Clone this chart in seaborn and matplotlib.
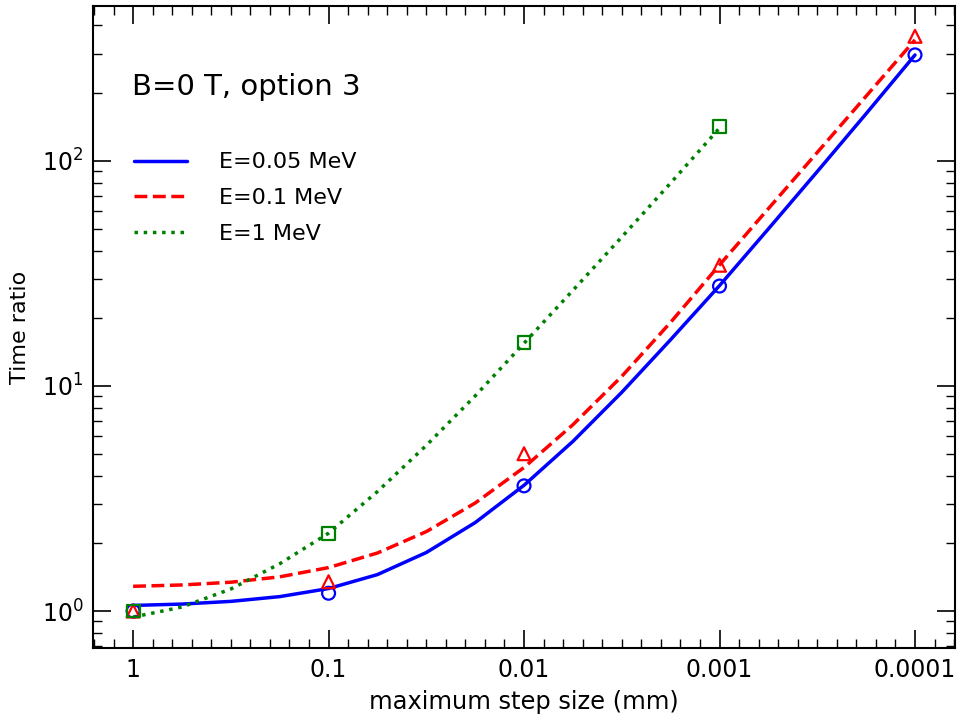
import numpy as np
import pandas as pd
import matplotlib
matplotlib.use("Agg")
import matplotlib.pyplot as plt
from matplotlib.ticker import MultipleLocator, FixedLocator, FixedFormatter, LogLocator
import seaborn as sns

# --- DATA (x = -log10(step size / mm)) ---
STEP_POS = [0, 1, 2, 3, 4]
STEP_LABELS = ["1", "0.1", "0.01", "0.001", "0.0001"]

# measured points
E005_PTS = [1.0, 1.2, 3.6, 27.8, 296]
E01_PTS = [1.0, 1.35, 5.0, 34.4, 358]
E1_PTS = [1.0, 2.21, 15.6, 142]

# fit curves
FIT_POS = [0, 0.25, 0.5, 0.75, 1.0, 1.25, 1.5, 1.75, 2.0, 2.25, 2.5, 2.75, 3.0, 3.25, 3.5, 3.75, 4.0]
E005_FIT = [1.059, 1.074, 1.104, 1.159, 1.259, 1.452, 1.820, 2.472, 3.622, 5.675, 9.376,
            16.07, 27.93, 49.9, 89.7, 162.2, 295.8]
E01_FIT = [1.288, 1.306, 1.343, 1.419, 1.560, 1.811, 2.254, 3.020, 4.345, 6.730, 11.04,
           19.19, 34.51, 61.4, 109.1, 194.1, 345.1]
E1_FIT = [0.940, 1.042, 1.253, 1.622, 2.218, 3.396, 5.445, 9.036, 15.49, 26.61, 45.92, 79.8, 140]

SERIES = [
    # label, points, fit, color, linestyle, marker
    ("E=0.05 MeV", E005_PTS, E005_FIT, "#0000ff", "-", "o"),
    ("E=0.1 MeV", E01_PTS, E01_FIT, "#ff0000", "--", "^"),
    ("E=1 MeV", E1_PTS, E1_FIT, "#008000", ":", "s"),
]

sns.set_style("ticks")
plt.rcParams['font.family'] = ['DejaVu Sans']
plt.rcParams['axes.linewidth'] = 1.5
for key in ['text.color', 'axes.labelcolor', 'xtick.color', 'ytick.color', 'axes.edgecolor']:
    plt.rcParams[key] = 'black'

fig = plt.figure(figsize=(9.59, 7.17), dpi=100)
ax = fig.add_axes([0.097, 0.0962, 0.8989, 0.8954])

for label, pts, fit, color, ls, marker in SERIES:
    fit_df = pd.DataFrame({"x": FIT_POS[:len(fit)], "y": fit})
    sns.lineplot(data=fit_df, x="x", y="y", color=color, linestyle=ls,
                 lw=2.5, label=label, ax=ax)
    pts_df = pd.DataFrame({"x": STEP_POS[:len(pts)], "y": pts})
    sns.scatterplot(data=pts_df, x="x", y="y", marker=marker, s=86,
                    color=color, facecolor="none", edgecolor=color,
                    linewidth=1.6, ax=ax, zorder=3)

ax.set_yscale("log")
ax.set_xlim(-0.205, 4.205)
ax.set_ylim(0.685, 488)

ax.xaxis.set_major_locator(FixedLocator(STEP_POS))
ax.xaxis.set_major_formatter(FixedFormatter(STEP_LABELS))
ax.xaxis.set_minor_locator(MultipleLocator(0.1))
ax.yaxis.set_major_locator(LogLocator(base=10, numticks=10))
ax.yaxis.set_minor_locator(LogLocator(base=10, subs=np.arange(2, 10), numticks=20))

ax.tick_params(which="both", direction="in", top=True, right=True, labelsize=17)
ax.tick_params(which="major", length=13, width=1.2, pad=7)
ax.tick_params(which="minor", length=6.5, width=1.0)

ax.set_xlabel("maximum step size (mm)", fontsize=17.4, labelpad=6)
ax.set_ylabel("Time ratio", fontsize=16, labelpad=8)

ax.text(0.045, 0.861, "B=0 T, option 3", transform=ax.transAxes,
        fontsize=21, va="baseline", ha="left")

ax.legend(loc="upper left", bbox_to_anchor=(0.048, 0.772), frameon=False,
          fontsize=16, handlelength=2.35, handletextpad=1.45,
          labelspacing=0.7, borderpad=0, borderaxespad=0)

fig.savefig("out.png", dpi=100)
